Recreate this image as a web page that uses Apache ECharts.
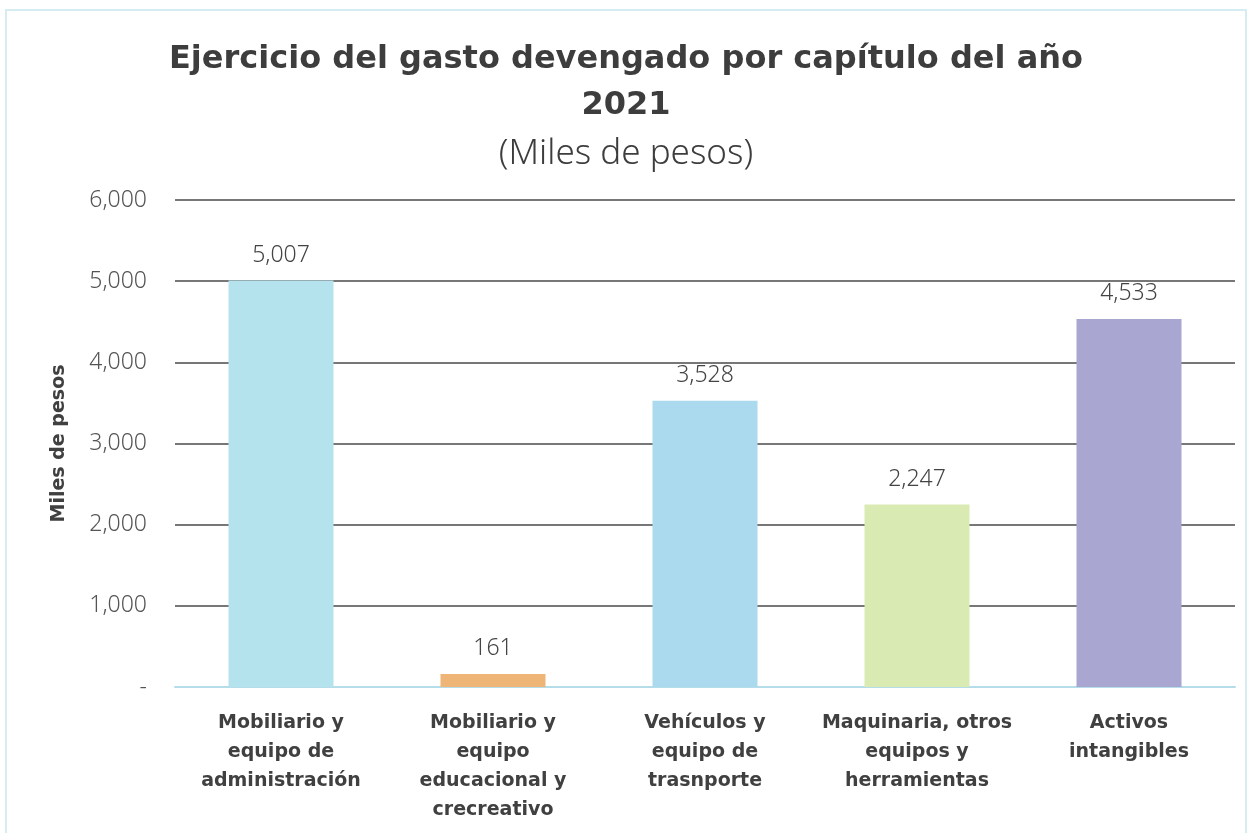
<!DOCTYPE html>
<html>
<head>
<meta charset="utf-8">
<script src="https://cdn.jsdelivr.net/npm/echarts@6/dist/echarts.min.js"></script>
<style>
html,body{margin:0;padding:0;background:#fff;}
#chart{width:1252px;height:833px;}
</style>
</head>
<body>
<div id="chart"></div>
<script>
const categories = [
  "Mobiliario y\nequipo de\nadministración",
  "Mobiliario y\nequipo\neducacional y\ncrecreativo",
  "Vehículos y\nequipo de\ntrasnporte",
  "Maquinaria, otros\nequipos y\nherramientas",
  "Activos\nintangibles"
];
const values = [5007, 161, 3528, 2247, 4533];
const barColors = ["#b4e3ee", "#eeb577", "#abd9ee", "#d9ebb3", "#aaa6d2"];
const yTicks = [0, 1000, 2000, 3000, 4000, 5000, 6000];

const FONT = "'Noto Sans', 'DejaVu Sans', sans-serif";
const BOLD = "'DejaVu Sans', 'Noto Sans', sans-serif";
const fmt = v => v === 0 ? "-" : v.toLocaleString("en-US");

const chart = echarts.init(document.getElementById("chart"));
chart.setOption({
  backgroundColor: "#fff",
  textStyle: { fontFamily: FONT },
  title: [
    {
      text: "Ejercicio del gasto devengado por capítulo del año\n2021",
      left: "center", top: 32,
      textStyle: { fontFamily: BOLD, fontSize: 32, fontWeight: "bold", color: "#3d3d3d", lineHeight: 46 }
    },
    {
      text: "(Miles de pesos)",
      left: "center", top: 132,
      textStyle: { fontFamily: FONT, fontSize: 35, fontWeight: 300, color: "#3d3d3d" }
    }
  ],
  graphic: [{
    type: "rect", shape: { x: 6, y: 10, width: 1240, height: 830 },
    style: { fill: "none", stroke: "#d6ecf3", lineWidth: 2 }, silent: true
  }],
  grid: { left: 175, right: 17, top: 200, bottom: 146 },
  xAxis: {
    type: "category",
    data: categories,
    axisTick: { show: false },
    axisLine: { show: true, lineStyle: { color: "#b5dde9", width: 2 } },
    axisLabel: {
      margin: 22, fontSize: 19, fontWeight: "bold", color: "#404040",
      lineHeight: 29, fontFamily: BOLD, interval: 0
    }
  },
  yAxis: {
    type: "value",
    min: yTicks[0], max: yTicks[yTicks.length - 1], interval: 1000,
    name: "Miles de pesos",
    nameLocation: "middle",
    nameGap: 106,
    nameTextStyle: { fontSize: 19, fontWeight: "bold", color: "#404040", fontFamily: BOLD },
    axisLine: { show: false },
    axisTick: { show: false },
    axisLabel: {
      margin: 28, fontSize: 23, color: "#555", fontWeight: 300, fontFamily: FONT,
      formatter: fmt
    },
    splitLine: { lineStyle: { color: "#4a4a4a", width: 1.5 } }
  },
  series: [{
    type: "bar",
    data: values.map((v, i) => ({ value: v, itemStyle: { color: barColors[i] } })),
    barWidth: 105,
    z: 3,
    label: {
      show: true, position: "top", distance: 14,
      fontSize: 23, color: "#444", fontWeight: 300, fontFamily: FONT,
      formatter: p => fmt(p.value)
    }
  }]
});
</script>
</body>
</html>
